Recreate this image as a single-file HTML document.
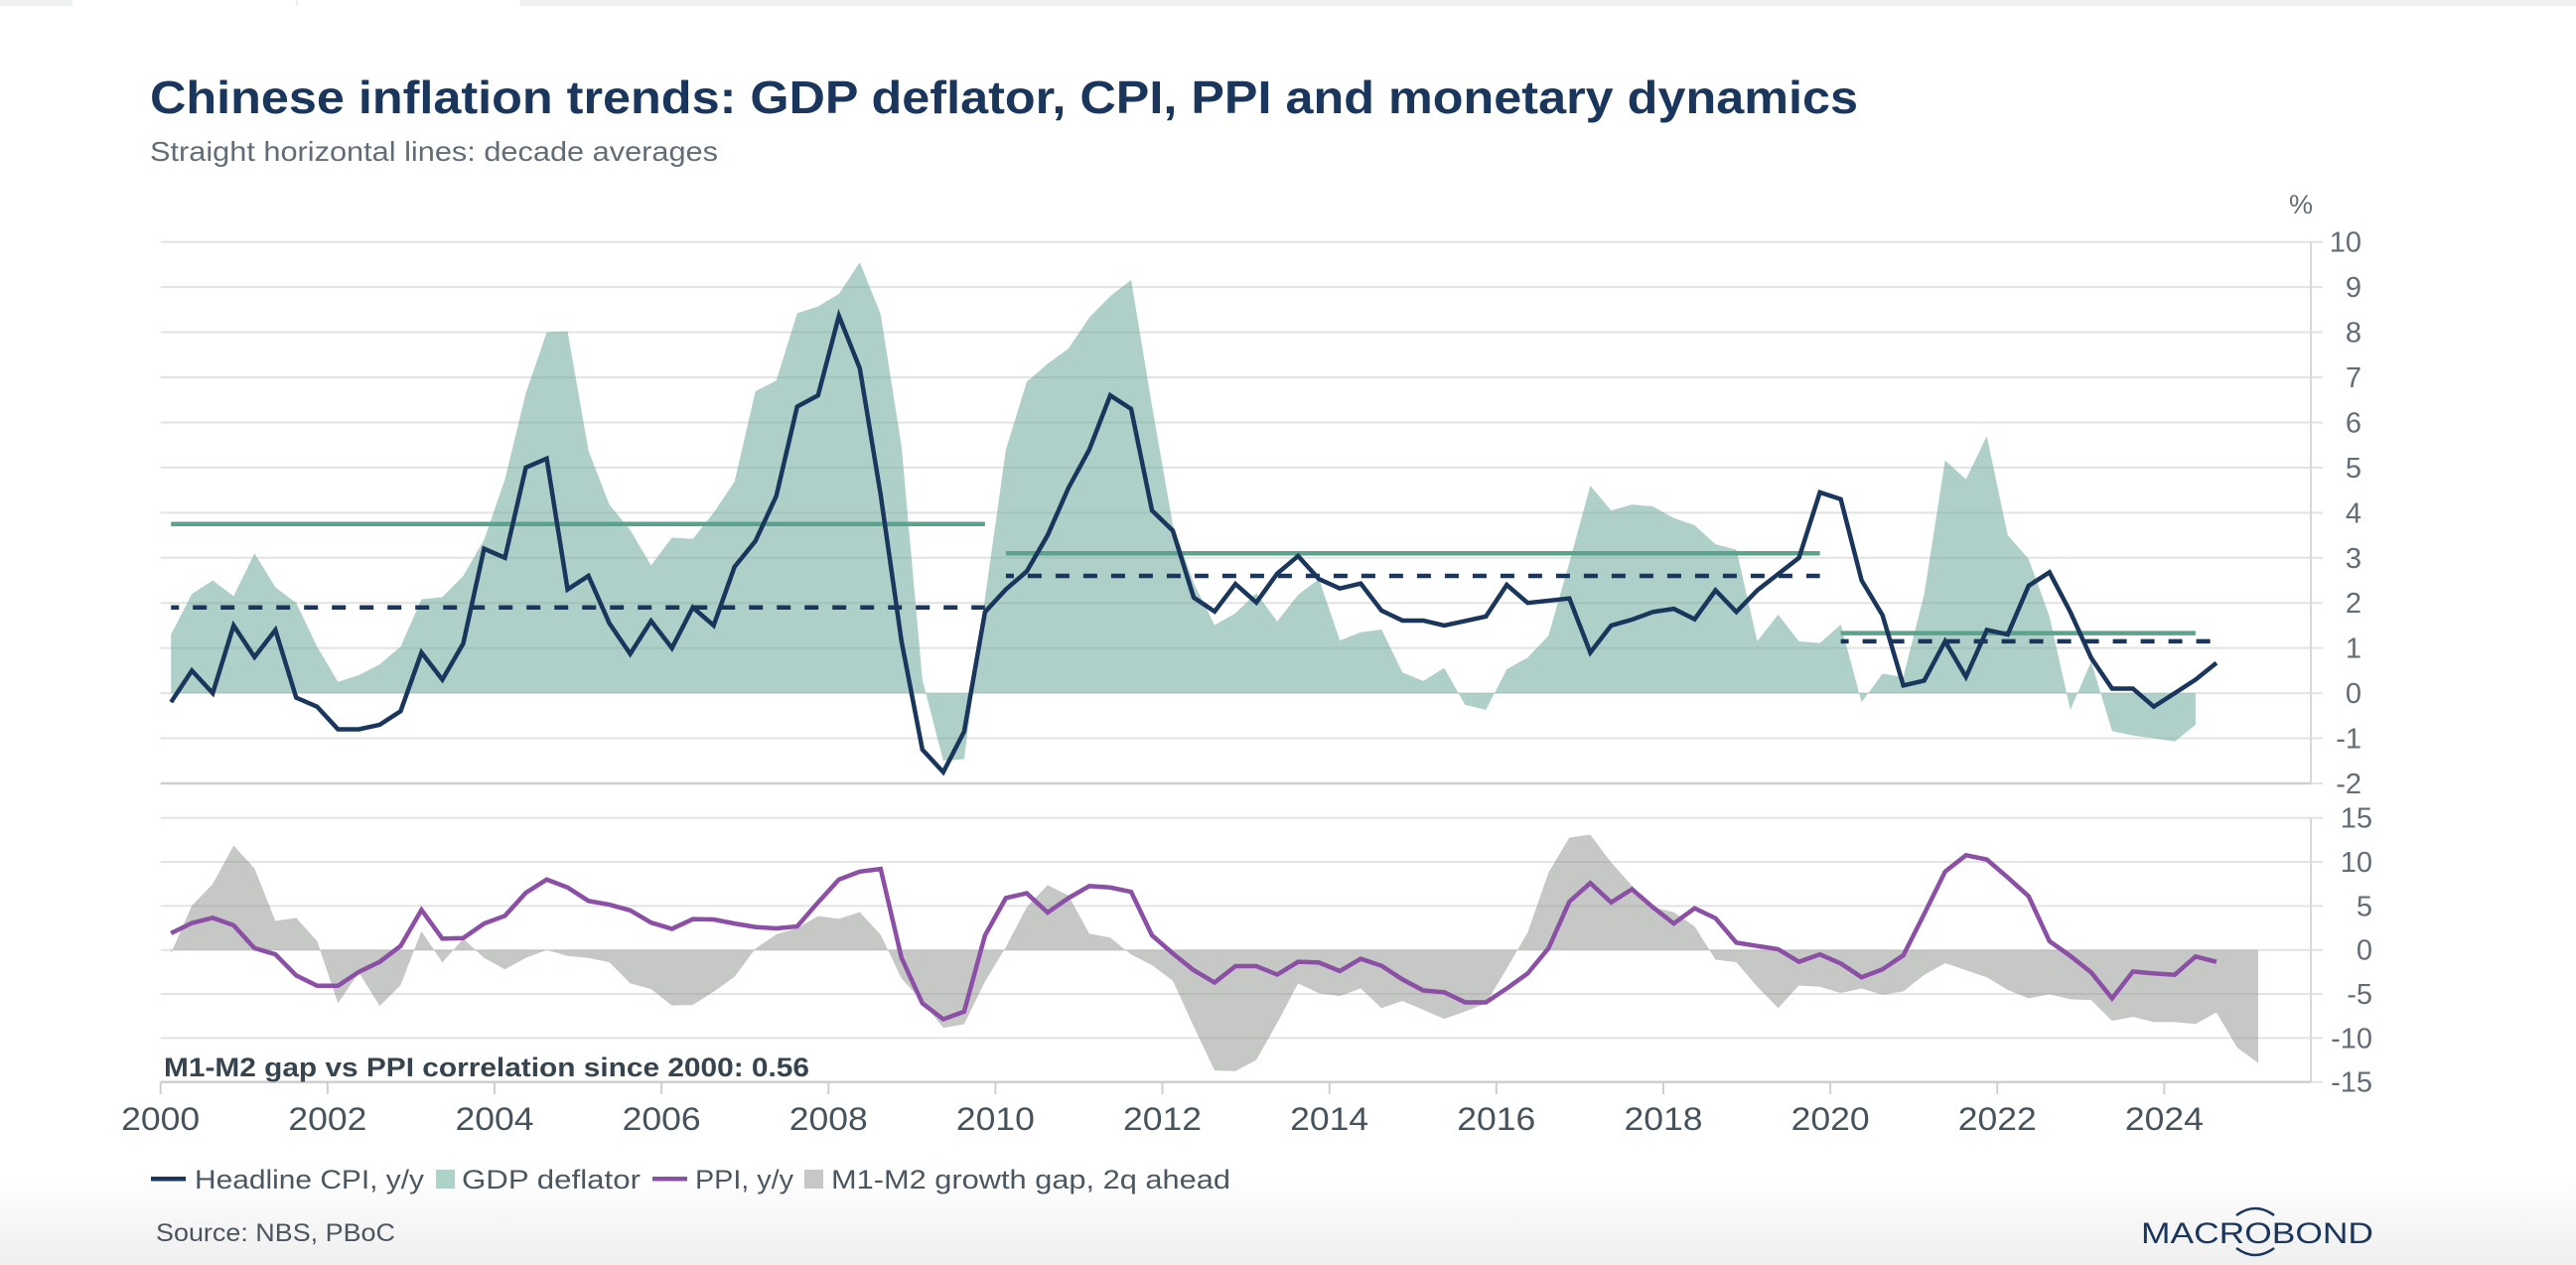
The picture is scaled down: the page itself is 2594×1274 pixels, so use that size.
<!DOCTYPE html>
<html lang="en">
<head>
<meta charset="utf-8">
<title>Chinese inflation trends</title>
<style>
html,body{margin:0;padding:0;background:#fff;width:2594px;height:1274px;overflow:hidden}
svg{display:block;font-family:"Liberation Sans",sans-serif}
</style>
</head>
<body>
<svg id="chart" xmlns="http://www.w3.org/2000/svg" width="2594" height="1274" viewBox="0 0 2594 1274">
  <defs>
    <linearGradient id="foot" x1="0" y1="0" x2="0" y2="1">
      <stop offset="0" stop-color="#ffffff"/>
      <stop offset="1" stop-color="#efefef"/>
    </linearGradient>
  </defs>
  <rect width="2594" height="1274" fill="#fff"/>
  <rect x="0" y="1184" width="2594" height="90" fill="url(#foot)"/>
  <rect x="0" y="0" width="73" height="6" fill="#eef0f2"/>
  <rect x="524" y="0" width="2070" height="6" fill="#eef0f2"/>
  <rect x="298" y="0" width="2" height="6" fill="#eef0f2"/>

  <text x="151" y="114" font-size="46" font-weight="700" fill="#1a365d" textLength="1720" lengthAdjust="spacingAndGlyphs">Chinese inflation trends: GDP deflator, CPI, PPI and monetary dynamics</text>
  <text x="151" y="162" font-size="28" fill="#626c76" textLength="572" lengthAdjust="spacingAndGlyphs">Straight horizontal lines: decade averages</text>
  <text x="2317" y="215" font-size="27" fill="#626c76" text-anchor="middle">%</text>

  <g id="grid"></g>
  <g id="areas"></g>
  <g id="lines"></g>
  <g id="axes"></g>

  <text x="165" y="1084" font-size="27" font-weight="700" fill="#36444f" textLength="650" lengthAdjust="spacingAndGlyphs">M1-M2 gap vs PPI correlation since 2000: 0.56</text>

  <g>
    <g>
      <rect x="152" y="1185" width="35" height="4.5" fill="#1a365d"/>
      <text x="196" y="1197" font-size="27" fill="#4a5660" textLength="231" lengthAdjust="spacingAndGlyphs">Headline CPI, y/y</text>
    </g>
    <g>
      <rect x="439" y="1178" width="19" height="19" fill="#aed1c8"/>
      <text x="465" y="1197" font-size="27" fill="#4a5660" textLength="180" lengthAdjust="spacingAndGlyphs">GDP deflator</text>
    </g>
    <g>
      <rect x="657" y="1185" width="35" height="4.5" fill="#8b4fa6"/>
      <text x="700" y="1197" font-size="27" fill="#4a5660" textLength="99" lengthAdjust="spacingAndGlyphs">PPI, y/y</text>
    </g>
    <g>
      <rect x="810" y="1178" width="19" height="19" fill="#c6c8c5"/>
      <text x="837" y="1197" font-size="27" fill="#4a5660" textLength="402" lengthAdjust="spacingAndGlyphs">M1-M2 growth gap, 2q ahead</text>
    </g>
  </g>

  <text x="157" y="1250" font-size="25" fill="#4a5560" textLength="241" lengthAdjust="spacingAndGlyphs">Source: NBS, PBoC</text>

  <g>
    <text x="2156" y="1252" font-size="30" fill="#1a365d" textLength="234" lengthAdjust="spacingAndGlyphs">MACROBOND</text>
    <path d="M2252 1224 Q2271 1210 2290 1224" fill="none" stroke="#1a365d" stroke-width="2.5"/>
    <path d="M2252 1257 Q2271 1271 2290 1257" fill="none" stroke="#1a365d" stroke-width="2.5"/>
  </g>
</svg>
<script>
// Quarterly values, first point = 2000 Q1
const cpi = [-0.2,0.5,0.0,1.5,0.8,1.4,-0.1,-0.3,-0.8,-0.8,-0.7,-0.4,0.9,0.3,1.1,3.2,3.0,5.0,5.2,2.3,2.6,1.55,0.87,1.6,1.0,1.9,1.5,2.8,3.37,4.37,6.35,6.6,8.36,7.2,4.4,1.15,-1.25,-1.75,-0.85,1.8,2.3,2.7,3.5,4.55,5.4,6.6,6.3,4.05,3.6,2.12,1.81,2.42,2.01,2.65,3.04,2.53,2.32,2.43,1.83,1.61,1.61,1.5,1.6,1.7,2.4,2.0,2.05,2.1,0.9,1.5,1.63,1.8,1.87,1.64,2.28,1.8,2.28,2.64,3.0,4.45,4.3,2.5,1.73,0.17,0.28,1.15,0.36,1.4,1.3,2.38,2.68,1.8,0.78,0.1,0.1,-0.3,0.0,0.3,0.67];
const deflator = [1.3,2.2,2.5,2.15,3.1,2.35,2.0,1.03,0.25,0.4,0.64,1.03,2.08,2.13,2.6,3.4,4.74,6.65,8.0,8.02,5.38,4.18,3.62,2.83,3.45,3.42,4.0,4.69,6.69,6.93,8.42,8.57,8.85,9.55,8.4,5.47,0.3,-1.5,-1.46,2.1,5.4,6.9,7.3,7.64,8.33,8.8,9.16,6.37,3.73,2.44,1.51,1.77,2.22,1.59,2.18,2.53,1.17,1.35,1.41,0.46,0.27,0.56,-0.26,-0.37,0.53,0.79,1.28,2.9,4.6,4.05,4.18,4.14,3.88,3.72,3.3,3.18,1.15,1.74,1.15,1.11,1.52,-0.2,0.43,0.36,2.2,5.16,4.74,5.7,3.5,2.98,1.7,-0.37,0.7,-0.84,-0.94,-1.0,-1.07,-0.7];
const ppi = [1.9,3.05,3.65,2.8,0.2,-0.5,-2.9,-4.06,-4.06,-2.5,-1.35,0.45,4.55,1.28,1.35,3.0,3.88,6.5,8.0,7.1,5.57,5.15,4.5,3.1,2.4,3.5,3.46,3.0,2.6,2.45,2.67,5.4,8.0,8.9,9.2,-0.9,-6.06,-7.87,-7.0,1.66,5.9,6.44,4.25,5.9,7.26,7.1,6.6,1.66,-0.4,-2.3,-3.7,-1.84,-1.84,-2.8,-1.35,-1.43,-2.4,-1.0,-1.8,-3.35,-4.6,-4.8,-5.95,-5.95,-4.37,-2.67,0.2,5.5,7.6,5.4,6.9,4.85,3.0,4.74,3.6,0.83,0.45,0.08,-1.35,-0.5,-1.54,-3.1,-2.2,-0.6,4.1,8.9,10.76,10.27,8.24,6.1,1.0,-0.68,-2.56,-5.5,-2.45,-2.67,-2.82,-0.75,-1.35];
const gap = [-0.4,5.04,7.5,11.85,9.26,3.3,3.65,1.0,-6.06,-2.56,-6.36,-4.0,2.14,-1.43,1.28,-0.9,-2.2,-0.9,0,-0.68,-0.9,-1.4,-3.8,-4.44,-6.3,-6.25,-4.74,-3.05,0.15,1.77,2.48,3.84,3.54,4.3,1.73,-3.24,-5.87,-8.84,-8.43,-3.6,0.34,4.86,7.38,6.17,1.84,1.4,-0.53,-1.73,-3.5,-8.7,-13.7,-13.77,-12.5,-8.3,-3.8,-4.93,-5.23,-4.37,-6.6,-5.8,-6.8,-7.83,-7.0,-6.06,-2.1,2.0,8.8,12.76,13.1,9.94,7.3,4.85,4.3,2.67,-1.1,-1.4,-4.18,-6.6,-4.03,-4.18,-4.9,-4.37,-5.1,-4.7,-2.82,-1.5,-2.3,-3.1,-4.55,-5.5,-5.04,-5.6,-5.7,-8.05,-7.6,-8.2,-8.2,-8.4,-7.1,-11.1,-12.83];
// Decade averages: [first quarter index, last quarter index, value]
const deflatorAverages = [[0,39,3.75],[40,79,3.1],[80,97,1.33]];
const cpiAverages = [[0,39,1.9],[40,79,2.6],[80,98,1.15]];
const upperTicks = [10,9,8,7,6,5,4,3,2,1,0,-1,-2];
const lowerTicks = [15,10,5,0,-5,-10,-15];
const yearTicks = [2000,2002,2004,2006,2008,2010,2012,2014,2016,2018,2020,2022,2024];

const NS = 'http://www.w3.org/2000/svg';
const X0 = 161.7, YEAR = 84.07, RIGHT = 2327, TICK_END = 2339;
const UP_TOP = 243.7, UP_UNIT = 45.44, LOW_TOP = 823.7, LOW_UNIT = 8.867;

function xYear(y){ return X0 + (y - 2000) * YEAR; }
function xQuarter(i){ return xYear(2000 + (i + 0.5) / 4); }
function yUpper(v){ return UP_TOP + (10 - v) * UP_UNIT; }
function yLower(v){ return LOW_TOP + (15 - v) * LOW_UNIT; }

function make(tag, attrs, parent){
  const el = document.createElementNS(NS, tag);
  for (const k in attrs) el.setAttribute(k, attrs[k]);
  parent.appendChild(el);
  return el;
}
function linePath(values, yFn){
  return values.map((v, i) => (i ? 'L' : 'M') + xQuarter(i).toFixed(2) + ' ' + yFn(v).toFixed(2)).join(' ');
}
function areaPath(values, yFn){
  const n = values.length - 1;
  return 'M' + xQuarter(0).toFixed(2) + ' ' + yFn(0).toFixed(2) + ' ' +
    values.map((v, i) => 'L' + xQuarter(i).toFixed(2) + ' ' + yFn(v).toFixed(2)).join(' ') +
    ' L' + xQuarter(n).toFixed(2) + ' ' + yFn(0).toFixed(2) + ' Z';
}

const grid = document.getElementById('grid');
const areas = document.getElementById('areas');
const lines = document.getElementById('lines');
const axes = document.getElementById('axes');

upperTicks.forEach(function(t){
  const y = yUpper(t);
  const g = make('line', {x1:X0, x2:TICK_END, y1:y, y2:y, stroke:'#e3e3e3', 'stroke-width':2}, grid);
  
  
  const lab = make('text', {x:2378, y:y + 10, 'font-size':29, fill:'#626c76', 'text-anchor':'end'}, axes);
  lab.textContent = String(t);
  
  
});
lowerTicks.forEach(function(t){
  const y = yLower(t);
  const g = make('line', {x1:X0, x2:TICK_END, y1:y, y2:y, stroke:'#e3e3e3', 'stroke-width':2}, grid);
  
  
  const lab = make('text', {x:2389, y:y + 10, 'font-size':29, fill:'#626c76', 'text-anchor':'end'}, axes);
  lab.textContent = String(t);
  
  
});

const deflatorArea = make('path', {d:areaPath(deflator, yUpper), fill:'#6ea99a', 'fill-opacity':0.55}, areas);


const gapArea = make('path', {d:areaPath(gap, yLower), fill:'#8e918c', 'fill-opacity':0.5}, areas);



deflatorAverages.forEach(function(a){
  const seg = make('line', {x1:xQuarter(a[0]), x2:xQuarter(a[1]), y1:yUpper(a[2]), y2:yUpper(a[2]), stroke:'#5ba38c', 'stroke-width':4.5}, lines);
  
  
});
cpiAverages.forEach(function(a){
  const seg = make('line', {x1:xQuarter(a[0]), x2:xQuarter(a[1]), y1:yUpper(a[2]), y2:yUpper(a[2]), stroke:'#1a365d', 'stroke-width':4.5, 'stroke-dasharray':'14 14', 'stroke-dashoffset':6}, lines);
  
  
});

const cpiLine = make('path', {d:linePath(cpi, yUpper), fill:'none', stroke:'#1a365d', 'stroke-width':4.5, 'stroke-linejoin':'miter'}, lines);


const ppiLine = make('path', {d:linePath(ppi, yLower), fill:'none', stroke:'#8b4fa6', 'stroke-width':4.5, 'stroke-linejoin':'miter'}, lines);



[[UP_TOP, yUpper(-2)], [LOW_TOP, yLower(-15)]].forEach(function(r){
  const ax = make('line', {x1:RIGHT, x2:RIGHT, y1:r[0], y2:r[1], stroke:'#d8d8d8', 'stroke-width':2}, axes);
  
  
  const base = make('line', {x1:X0, x2:RIGHT, y1:r[1], y2:r[1], stroke:'#cfcfcf', 'stroke-width':2.5}, axes);
  
  
});
yearTicks.forEach(function(yr){
  const x = xYear(yr);
  const tick = make('line', {x1:x, x2:x, y1:yLower(-15), y2:1102, stroke:'#cfcfcf', 'stroke-width':2}, axes);
  
  
  const lab = make('text', {x:x, y:1138, 'font-size':32, fill:'#46525c', 'text-anchor':'middle', textLength:79, lengthAdjust:'spacingAndGlyphs'}, axes);
  lab.textContent = String(yr);
  
  
});
</script>
</body>
</html>
